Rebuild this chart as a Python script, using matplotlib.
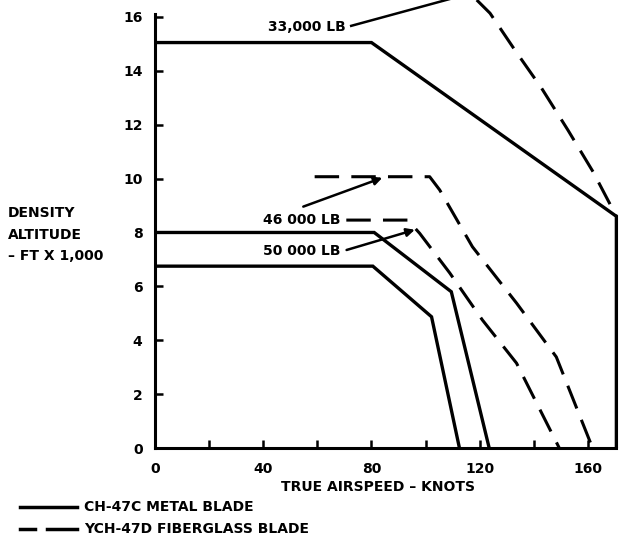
import matplotlib
matplotlib.use("Agg")
import matplotlib.pyplot as plt
from matplotlib.lines import Line2D

plt.rcParams['font.family'] = ['DejaVu Sans']
plt.rcParams['font.weight'] = 'bold'

# --- data (knots, density altitude ft x 1000) ---
metal_33000_x = [0, 80, 170.5, 170.5]
metal_33000_y = [15.05, 15.05, 8.6, 0]
metal_46000_x = [0, 81, 109.5, 123.5]
metal_46000_y = [8.0, 8.0, 5.8, 0]
metal_50000_x = [0, 80.5, 102.2, 112.5]
metal_50000_y = [6.75, 6.75, 4.87, 0]

glass_33000_x = [118.9, 123.8, 133.0, 142.9, 152.6, 161.9, 170.5]
glass_33000_y = [16.63, 16.14, 14.77, 13.35, 11.80, 10.25, 8.6]
glass_46000_x = [59, 101.5, 105.2, 117.3, 133.6, 148.3, 161.7]
glass_46000_y = [10.07, 10.07, 9.58, 7.47, 5.38, 3.38, 0]
glass_50000_x = [70.7, 93.4, 97.8, 108.9, 121.0, 133.6, 149.4]
glass_50000_y = [8.46, 8.46, 7.97, 6.5, 4.75, 3.15, 0]

x_ticks = [0, 20, 40, 60, 80, 100, 120, 140, 160]
x_tick_labels = ['0', '', '40', '', '80', '', '120', '', '160']
y_ticks = [0, 2, 4, 6, 8, 10, 12, 14, 16]
y_tick_labels = ['0', '2', '4', '6', '8', '10', '12', '14', '16']

W, H = 619, 537
fig = plt.figure(figsize=(W / 100, H / 100), dpi=100)
x0px, kpx = 155, 2.706
y0px, apx = 448, 26.94
xmax = 171.5
ymax = y0px / apx
ax = fig.add_axes([x0px / W, (H - y0px) / H, xmax * kpx / W, y0px / H])
ax.set_xlim(0, xmax)
ax.set_ylim(0, ymax)

lw = 2.4
dash = (0, (8, 4))
ax.plot(metal_33000_x, metal_33000_y, color='black', lw=lw, solid_joinstyle='miter')
ax.plot(metal_46000_x, metal_46000_y, color='black', lw=lw, solid_joinstyle='miter')
ax.plot(metal_50000_x, metal_50000_y, color='black', lw=lw, solid_joinstyle='miter')
ax.plot(glass_33000_x, glass_33000_y, color='black', lw=2.2, linestyle=dash)
ax.plot(glass_46000_x, glass_46000_y, color='black', lw=2.2, linestyle=dash)
ax.plot(glass_50000_x, glass_50000_y, color='black', lw=2.2, linestyle=dash)

# labels and leaders
fs = 10
ax.text(70.5, 15.64, '33,000 LB', ha='right', va='center', fontsize=fs, fontweight='bold')
ax.plot([72.5, 112], [15.67, 16.75], color='black', lw=1.8, clip_on=True)
ax.text(68.5, 8.46, '46 000 LB', ha='right', va='center', fontsize=fs, fontweight='bold')
ax.annotate('', xy=(84, 10.03), xytext=(54.8, 8.96),
            arrowprops=dict(arrowstyle='-|>', color='black', lw=1.8,
                            mutation_scale=12, shrinkA=0, shrinkB=0))
ax.text(68.5, 7.3, '50 000 LB', ha='right', va='center', fontsize=fs, fontweight='bold')
ax.annotate('', xy=(96, 8.1), xytext=(70.8, 7.35),
            arrowprops=dict(arrowstyle='-|>', color='black', lw=1.8,
                            mutation_scale=12, shrinkA=0, shrinkB=0))

for s in ['top', 'right']:
    ax.spines[s].set_visible(False)
ax.spines['left'].set_bounds(0, 16.1)
ax.spines['bottom'].set_bounds(0, 170.5)
for s in ['left', 'bottom']:
    ax.spines[s].set_linewidth(2.2)

ax.set_xticks(x_ticks)
ax.set_xticklabels(x_tick_labels)
ax.set_yticks(y_ticks)
ax.set_yticklabels(y_tick_labels)
ax.tick_params(axis='both', direction='in', length=6, width=1.8, labelsize=fs)
ax.tick_params(axis='x', pad=10)
ax.tick_params(axis='y', pad=9)
for lab in ax.get_xticklabels() + ax.get_yticklabels():
    lab.set_fontweight('bold')

# axis titles
fig.text(378 / W, 1 - 487 / H, 'TRUE AIRSPEED \u2013 KNOTS', ha='center', va='center',
         fontsize=fs, fontweight='bold')
for txt, ypx in [('DENSITY', 213), ('ALTITUDE', 235), ('\u2013 FT X 1,000', 256)]:
    fig.text(8 / W, 1 - ypx / H, txt, ha='left', va='center', fontsize=fs, fontweight='bold')

# legend
def fl(xs, ys, **kw):
    fig.add_artist(Line2D([x / W for x in xs], [1 - y / H for y in ys],
                          transform=fig.transFigure, color='black', **kw))

fl([20, 77], [507, 507], lw=2.5)
fl([20, 35], [529, 529], lw=2.5)
fl([47, 77], [529, 529], lw=2.5)
fig.text(84 / W, 1 - 507 / H, 'CH-47C METAL BLADE', ha='left', va='center',
         fontsize=fs, fontweight='bold')
fig.text(84 / W, 1 - 529 / H, 'YCH-47D FIBERGLASS BLADE', ha='left', va='center',
         fontsize=fs, fontweight='bold')

fig.savefig('out.png', dpi=100)
